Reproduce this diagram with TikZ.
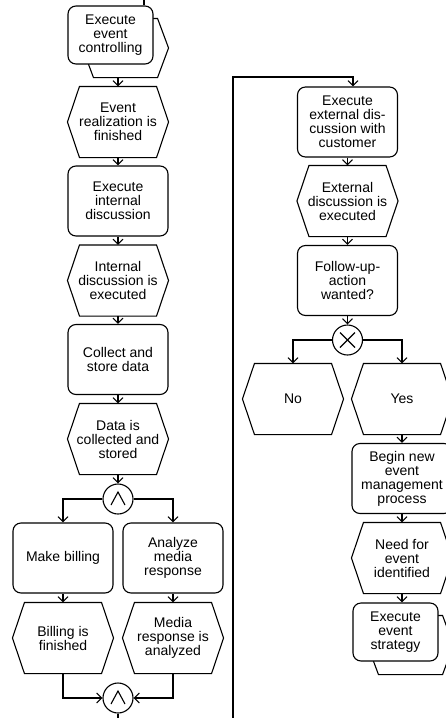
\documentclass[tikz,border=0pt]{standalone}
\usepackage{fontspec}
\setmainfont{Liberation Sans}
\usetikzlibrary{arrows.meta,calc,backgrounds}
\begin{document}
\begin{tikzpicture}[x=1pt,y=-1pt,line width=1.1pt,
  every node/.style={font=\fontsize{14}{14}\selectfont, align=center, inner sep=0pt},
  func/.style={draw, rounded corners=8pt, minimum width=100pt, minimum height=70pt, fill=white},
  pifront/.style={draw, rounded corners=8pt, minimum width=85pt, minimum height=58pt, fill=white},
  evt/.style={minimum width=100pt, minimum height=70pt},
  conn/.style={draw, circle, minimum size=30pt, fill=white},
  arr/.style={-{Straight Barb[length=5pt,width=10pt]}},
  backshape/.style={draw, fill=white, line width=1.1pt},
]
\useasboundingbox (0,0) rectangle (445,718);

% left column
\node[pifront] (pi1) at (110.5,35) {Execute\\event\\controlling};
\node[evt] (ev1) at (118,122) {Event\\realization is\\finished};
\node[func] (f1) at (118,201) {Execute\\internal\\discussion};
\node[evt] (ev2) at (118,280.5) {Internal\\discussion is\\executed};
\node[func] (f2) at (118,359.5) {Collect and\\store data};
\node[evt] (ev3) at (118,439) {Data is\\collected and\\stored};
\node[conn] (and1) at (118,499) {};
\node[func] (f3) at (63,558) {Make billing};
\node[func] (f4) at (173,558) {Analyze\\media\\response};
\node[evt] (ev4) at (63,638) {Billing is\\finished};
\node[evt] (ev5) at (173,638) {Media\\response is\\analyzed};
\node[conn] (and2) at (118,698) {};

% right column
\node[func] (f5) at (347.5,122) {Execute\\external dis-\\cussion with\\customer};
\node[evt] (ev6) at (347.5,201) {External\\discussion is\\executed};
\node[func] (f6) at (347.5,280.5) {Follow-up-\\action\\wanted?};
\node[conn] (xor) at (347.5,340) {};
\node[evt] (ev7) at (293,399) {No};
\node[evt] (ev8) at (402,399) {Yes};
\node[func] (f7) at (402,478.5) {Begin new\\event\\management\\process};
\node[evt] (ev9) at (402,558) {Need for\\event\\identified};
\node[pifront] (pi2) at (395.5,632) {Execute\\event\\strategy};

% event hexagons
\foreach \ename in {ev1,ev2,ev3,ev4,ev5,ev6,ev7,ev8,ev9} {
  \draw ([xshift=12pt]\ename.north west) -- ([xshift=-12pt]\ename.north east) -- (\ename.east)
    -- ([xshift=-12pt]\ename.south east) -- ([xshift=12pt]\ename.south west) -- (\ename.west) -- cycle;
}

% process interface back shapes
\begin{scope}[on background layer]
\foreach \pname in {pi1,pi2} {
  \path[backshape] ($(\pname.north west)+(26,13)$) -- ($(\pname.north east)+(4,13)$)
    -- ($(\pname.east)+(15,13)$) -- ($(\pname.south east)+(4,13)$)
    -- ($(\pname.south west)+(26,13)$) -- ($(\pname.west)+(15,13)$) -- cycle;
}
\end{scope}

% connector symbols
\draw ([shift={(-7,6)}]and1.center) -- ([shift={(0,-7)}]and1.center) -- ([shift={(7,6)}]and1.center);
\draw ([shift={(-7,6)}]and2.center) -- ([shift={(0,-7)}]and2.center) -- ([shift={(7,6)}]and2.center);
\draw ([shift={(-7.5,-7.5)}]xor.center) -- ([shift={(7.5,7.5)}]xor.center);
\draw ([shift={(-7.5,7.5)}]xor.center) -- ([shift={(7.5,-7.5)}]xor.center);

% helper coordinates
\coordinate (topin) at (144,0);
\coordinate (pi1b) at ($(pi1.south)+(0,13)$);
\coordinate (leftend) at (118,718);
\coordinate (wrapbot) at (233,718);
\coordinate (wraptop) at (353,77);

% connectors left
\draw (topin) -- (topin |- pi1.north);
\draw[arr] (ev1.north |- pi1b) -- (ev1.north);
\draw[arr] (ev1) -- (f1);
\draw[arr] (f1) -- (ev2);
\draw[arr] (ev2) -- (f2);
\draw[arr] (f2) -- (ev3);
\draw[arr] (ev3) -- (and1);
\draw[arr] (and1.west) -| (f3.north);
\draw[arr] (and1.east) -| (f4.north);
\draw[arr] (f3) -- (ev4);
\draw[arr] (f4) -- (ev5);
\draw[arr] (ev4.south) |- (and2.west);
\draw[arr] (ev5.south) |- (and2.east);
\draw (and2.south) -- (leftend);

% connectors right
\draw[arr] (wrapbot) |- (wraptop) -- (wraptop |- f5.north);
\draw[arr] (f5) -- (ev6);
\draw[arr] (ev6) -- (f6);
\draw[arr] (f6) -- (xor);
\draw[arr] (xor.west) -| (ev7.north);
\draw[arr] (xor.east) -| (ev8.north);
\draw[arr] (ev8) -- (f7);
\draw[arr] (f7) -- (ev9);
\draw[arr] (ev9.south) -- (ev9.south |- pi2.north);
\end{tikzpicture}
\end{document}
